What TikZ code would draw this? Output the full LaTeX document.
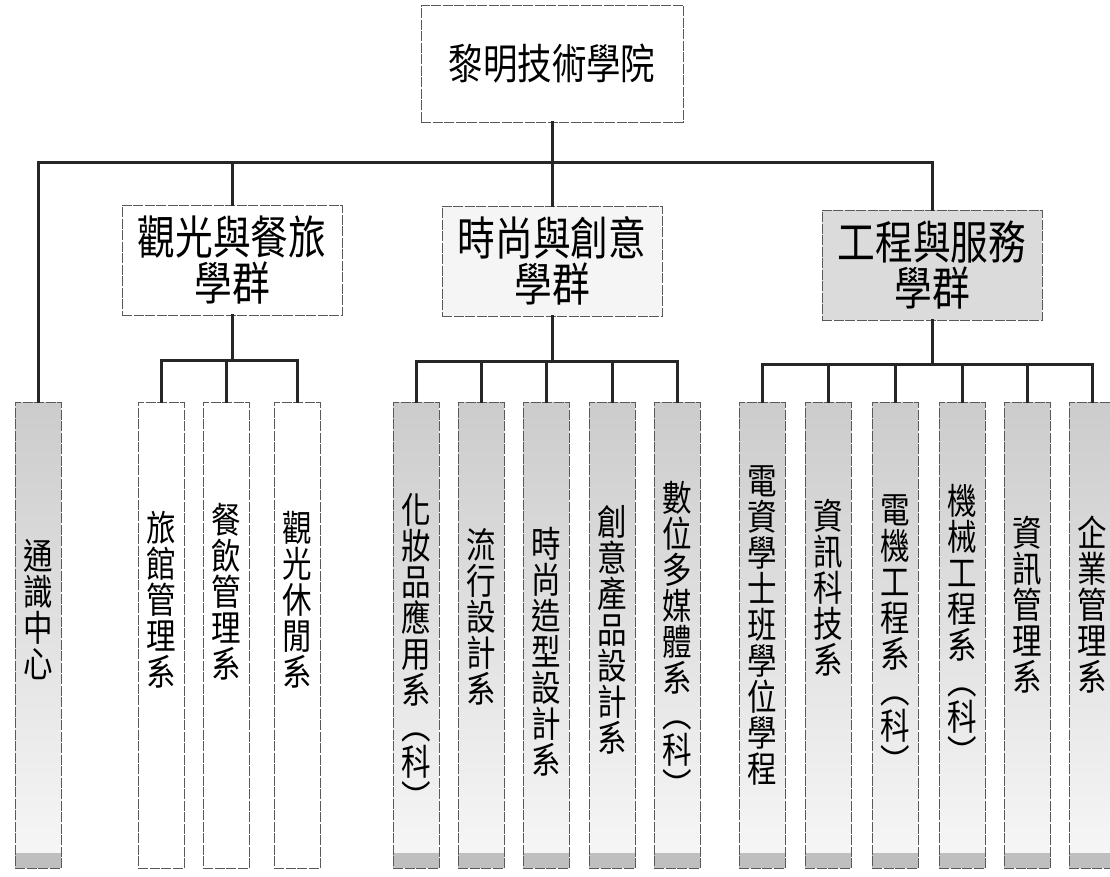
\documentclass[tikz,border=0pt]{standalone}
\usepackage{fontspec}
\newfontfamily\cjk{Noto Sans CJK TC}[FakeStretch=0.82]
\newcommand\deptbox[5]{%
  \node[dept,#3] (#1) at (#2,635) {};
  \node[depttext] (#1t) at (#2,#4) {#5};}
\newcommand\kparen{\\︵\\科\\︶}
\begin{document}
\begin{tikzpicture}[x=1pt,y=-1pt,
  conn/.style={draw=black!85,line width=3pt,line cap=rect},
  boxline/.style={draw=black!65,line width=0.9pt,dash pattern=on 10pt off 1.5pt},
  topbox/.style={boxline,minimum width=262,minimum height=117,inner sep=0,font=\cjk\fontsize{42}{44}\selectfont},
  grp/.style={boxline,minimum width=220,minimum height=110,inner sep=0,align=center,font=\cjk\fontsize{46}{46}\selectfont},
  dept/.style={boxline,minimum width=46,minimum height=466,inner sep=0},
  graydept/.style={top color=gray!40,bottom color=gray!6,
    path picture={\fill[gray!50] ([yshift=15pt]path picture bounding box.south west) rectangle (path picture bounding box.south east);}},
  plaindept/.style={fill=white},
  depttext/.style={align=center,inner sep=0,font=\cjk\fontsize{36}{36}\selectfont}
]
\useasboundingbox[fill=white] (0,0) rectangle (1110,876);

% top
\node[topbox] (top) at (552,63.5) {黎明技術學院};

% groups
\node[grp,fill=white] (g1) at (232,260) {觀光與餐旅\\學群};
\node[grp,fill=gray!8] (g2) at (552,261) {時尚與創意\\學群};
\node[grp,fill=gray!28] (g3) at (932,265) {工程與服務\\學群};

% departments
\deptbox{gen}{38}{graydept}{610}{通\\識\\中\\心}
\deptbox{d1}{161}{plaindept}{600}{旅\\館\\管\\理\\系}
\deptbox{d2}{226}{plaindept}{592}{餐\\飲\\管\\理\\系}
\deptbox{d3}{297}{plaindept}{600}{觀\\光\\休\\閒\\系}
\deptbox{d4}{416}{graydept}{652}{化\\妝\\品\\應\\用\\系\kparen}
\deptbox{d5}{481}{graydept}{617}{流\\行\\設\\計\\系}
\deptbox{d6}{546}{graydept}{652}{時\\尚\\造\\型\\設\\計\\系}
\deptbox{d7}{612}{graydept}{630}{創\\意\\產\\品\\設\\計\\系}
\deptbox{d8}{677}{graydept}{640}{數\\位\\多\\媒\\體\\系\kparen}
\deptbox{d9}{762}{graydept}{625}{電\\資\\學\\士\\班\\學\\位\\學\\程}
\deptbox{d10}{828}{graydept}{588}{資\\訊\\科\\技\\系}
\deptbox{d11}{895}{graydept}{635}{電\\機\\工\\程\\系\kparen}
\deptbox{d12}{962}{graydept}{625}{機\\械\\工\\程\\系\kparen}
\deptbox{d13}{1027}{graydept}{605}{資\\訊\\管\\理\\系}
\deptbox{d14}{1092}{graydept}{605}{企\\業\\管\\理\\系}

% bus coordinates
\coordinate (busT) at (0,162);
\coordinate (bus1) at (0,360);
\coordinate (bus2) at (0,361);
\coordinate (bus3) at (0,364);

% top level connectors
\draw[conn] (top.south) -- (g2.north);
\draw[conn] (gen.north |- busT) -- (g3.north |- busT);
\draw[conn] (gen.north |- busT) -- (gen.north);
\draw[conn] (g1.north |- busT) -- (g1.north);
\draw[conn] (g3.north |- busT) -- (g3.north);

% group 1
\draw[conn] (g1.south) -- (g1.south |- bus1);
\draw[conn] (d1.north |- bus1) -- (d3.north |- bus1);
\foreach \d in {d1,d2,d3} \draw[conn] (\d.north |- bus1) -- (\d.north);

% group 2
\draw[conn] (g2.south) -- (g2.south |- bus2);
\draw[conn] (d4.north |- bus2) -- (d8.north |- bus2);
\foreach \d in {d4,d5,d6,d7,d8} \draw[conn] (\d.north |- bus2) -- (\d.north);

% group 3
\draw[conn] (g3.south) -- (g3.south |- bus3);
\draw[conn] (d9.north |- bus3) -- (d14.north |- bus3);
\foreach \d in {d9,d10,d11,d12,d13,d14} \draw[conn] (\d.north |- bus3) -- (\d.north);
\end{tikzpicture}
\end{document}
